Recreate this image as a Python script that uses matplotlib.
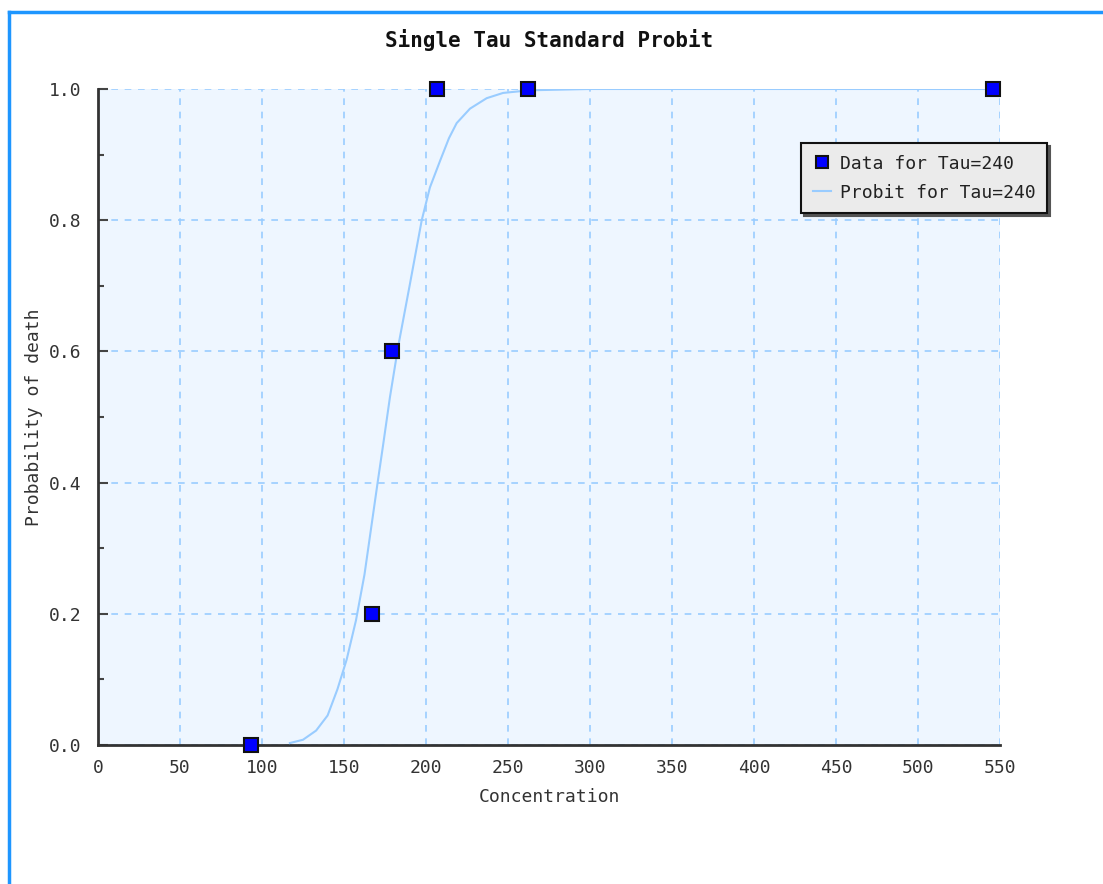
import matplotlib
matplotlib.use('Agg')
import matplotlib.pyplot as plt
from matplotlib.lines import Line2D
from matplotlib.ticker import MultipleLocator

# observed data points
conc = [93, 167, 179, 207, 262, 546]
prob = [0.0, 0.2, 0.6, 1.0, 1.0, 1.0]

# fitted probit curve
curve_x = [117, 125, 133, 140, 146, 151.6, 157.3, 162.5, 166.5, 170.5, 174, 178,
           183, 190, 197.4, 202.4, 208.5, 214, 218.7, 226.8, 237, 247, 263, 300, 400, 550]
curve_y = [0.003, 0.008, 0.022, 0.045, 0.085, 0.13, 0.19, 0.26, 0.33, 0.40, 0.46, 0.53,
           0.607, 0.70, 0.80, 0.85, 0.89, 0.925, 0.948, 0.97, 0.986, 0.994, 0.998, 1.0, 1.0, 1.0]

mono = 'DejaVu Sans Mono'
txt = '#333333'

fig = plt.figure(figsize=(11.03, 8.84), dpi=100)
ax = fig.add_axes([98/1103, 1-745/884, 902/1103, 656/884])
ax.set_facecolor('#eef6ff')

ax.plot(curve_x, curve_y, color='#99ccff', lw=1.5, label='Probit for Tau=240', zorder=3)
ax.plot(conc, prob, 's', color='#0000ff', ms=10, mec='#111111', mew=1.5,
        label='Data for Tau=240', clip_on=False, zorder=4)

ax.set_xlim(0, 550)
ax.set_ylim(0, 1.0)
ax.set_xticks(range(0, 551, 50))
ax.set_yticks([0.0, 0.2, 0.4, 0.6, 0.8, 1.0])
ax.set_yticklabels(['0.0', '0.2', '0.4', '0.6', '0.8', '1.0'])
ax.yaxis.set_minor_locator(MultipleLocator(0.1))
ax.tick_params(axis='y', which='major', direction='in', length=7, width=1.5,
               color='#444444', pad=12, labelsize=13, labelcolor=txt)
ax.tick_params(axis='y', which='minor', direction='in', length=4, width=1.5, color='#444444')
ax.tick_params(axis='x', length=0, pad=10, labelsize=13, labelcolor=txt)
for lab in ax.get_xticklabels() + ax.get_yticklabels():
    lab.set_family(mono)

ax.grid(True, color='#99ccff', linestyle=(0, (4, 4)), lw=1.2)
ax.set_axisbelow(True)
for s in ['top', 'right']:
    ax.spines[s].set_visible(False)
for s in ['left', 'bottom']:
    ax.spines[s].set_color('#333333')
    ax.spines[s].set_linewidth(2)

ax.set_xlabel('Concentration', family=mono, fontsize=13, color=txt, labelpad=8)
ax.set_ylabel('Probability of death', family=mono, fontsize=13, color=txt, labelpad=4)
ax.set_title('Single Tau Standard Probit', family=mono, fontsize=15, weight='bold',
             color='#111111', pad=30)

h, l = ax.get_legend_handles_labels()
leg = ax.legend(h[::-1], l[::-1], loc='upper left', bbox_to_anchor=(801/1103, 1-143/884),
                bbox_transform=fig.transFigure, fancybox=False,
                shadow={'color': '#555555', 'alpha': 1},
                framealpha=1, facecolor='#ebebeb', edgecolor='#111111',
                prop={'family': mono, 'size': 13}, handlelength=1.0, handletextpad=0.5,
                borderpad=0.65, labelspacing=0.6, borderaxespad=0, markerscale=0.8)
leg.get_frame().set_linewidth(1.5)
for t in leg.get_texts():
    t.set_color('#222222')

# blue frame on top and left edges
fig.add_artist(Line2D([9/1103, 1.0], [1-12/884, 1-12/884], color='#1e96ff', lw=2.5,
                      transform=fig.transFigure))
fig.add_artist(Line2D([9/1103, 9/1103], [0, 1-12/884], color='#1e96ff', lw=2.5,
                      transform=fig.transFigure))

fig.savefig('out.png', dpi=100)
